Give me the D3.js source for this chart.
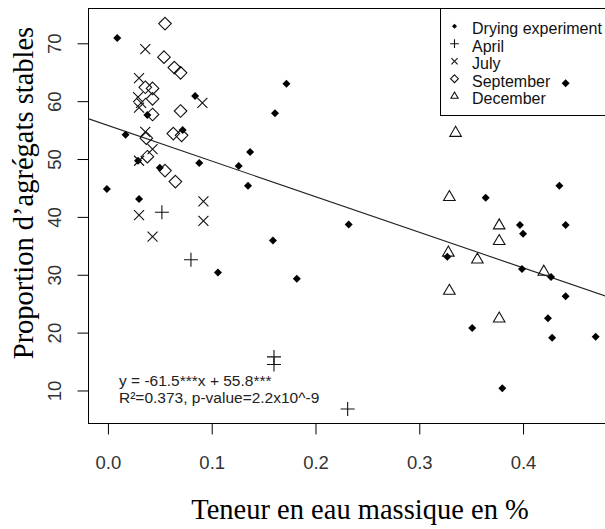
<!DOCTYPE html>
<html><head><meta charset="utf-8">
<script src="https://cdn.jsdelivr.net/npm/d3@7"></script>
<style>html,body{margin:0;padding:0;background:#fff;overflow:hidden}</style>
</head><body>
<script>
// ---- data ----
const dryingX = [0.009,-0.001,0.017,0.038,0.029,0.030,0.050,0.072,0.084,0.088,0.126,0.137,0.161,0.172,0.106,0.135,0.159,0.182,0.232,0.435,0.364,0.397,0.400,0.441,0.327,0.399,0.427,0.441,0.424,0.351,0.428,0.470,0.380,0.441];
const dryingY = [70.9,44.8,54.2,57.6,49.7,43.1,48.5,55.0,60.9,49.3,48.8,51.2,57.9,63.0,30.4,45.4,35.9,29.3,38.7,45.4,43.3,38.6,37.1,38.6,33.1,31.0,29.6,26.3,22.5,20.8,19.1,19.3,10.4,63.1];
const aprilX = [0.052,0.080,0.160,0.160,0.231];
const aprilY = [40.8,32.6,15.8,14.5,6.8];
const julyX = [0.036,0.030,0.029,0.032,0.030,0.091,0.036,0.043,0.030,0.030,0.043,0.092,0.092];
const julyY = [69.0,64.0,60.7,59.7,58.9,59.7,54.7,51.7,49.7,40.3,36.6,42.7,39.3];
const septX = [0.055,0.054,0.064,0.070,0.036,0.043,0.043,0.043,0.070,0.063,0.071,0.037,0.038,0.055,0.065];
const septY = [73.4,67.6,65.8,64.9,62.4,62.2,60.4,57.7,58.3,54.4,54.1,53.6,50.4,48.0,46.1];
const decX = [0.335,0.329,0.377,0.377,0.328,0.356,0.420,0.329,0.377];
const decY = [54.5,43.4,38.5,35.8,33.8,32.6,30.5,27.2,22.4];
const xTicks = [0.0,0.1,0.2,0.3,0.4];
const yTicks = [10,20,30,40,50,60,70];
const legendLabels = ["Drying experiment","April","July","September","December"];
const slope = -61.5, intercept = 55.8;
const eqLine1 = "y = -61.5***x + 55.8***";
const eqLine2 = "R\u00b2=0.373, p-value=2.2x10^-9";
const xTitle = "Teneur en eau massique en %";
const yTitle = "Proportion d\u2019agr\u00e9gats stables";

// ---- layout ----
const W = 605, H = 529;
const L = 88, T = 8, R = 615, B = 423;
const svg = d3.select("body").append("svg").attr("width", W).attr("height", H);

const x = d3.scaleLinear().domain([-0.0192, 0.4886]).range([L, R]);
const y = d3.scaleLinear().domain([4.38, 76.1]).range([B, T]);

const sans = "'Liberation Sans', Arial, sans-serif";
const serif = "'Liberation Serif', 'Times New Roman', serif";
const ink = "#111";

svg.append("defs").append("clipPath").attr("id","clip")
  .append("rect").attr("x",L).attr("y",T).attr("width",R-L).attr("height",B-T);

// box
svg.append("rect").attr("x",L+0.5).attr("y",T+0.5).attr("width",R-L).attr("height",B-T)
  .attr("fill","none").attr("stroke","#000").attr("stroke-width",1);

// axes
const xAxis = d3.axisBottom(x).tickValues(xTicks).tickFormat(d3.format(".1f")).tickSize(11).tickPadding(0);
const gx = svg.append("g").attr("transform",`translate(0,${B+0.5})`).call(xAxis);
gx.select(".domain").remove();
gx.selectAll("line").attr("stroke","#000");
gx.selectAll("text").attr("font-family",sans).attr("font-size",18.5).attr("fill","#333")
  .attr("dy",null).attr("y",45);

const yAxis = d3.axisLeft(y).tickValues(yTicks).tickSize(11).tickPadding(0);
const gy = svg.append("g").attr("transform",`translate(${L+0.5},0)`).call(yAxis);
gy.select(".domain").remove();
gy.selectAll("line").attr("stroke","#000");
gy.selectAll("text").attr("font-family",sans).attr("font-size",18.5).attr("fill","#333")
  .attr("x",null).attr("dy",null).attr("text-anchor","middle")
  .attr("transform","translate(-28,0) rotate(-90)").attr("y",0);

// titles
svg.append("text").attr("x",360).attr("y",519).attr("text-anchor","middle")
  .attr("font-family",serif).attr("font-size",28.5).attr("fill","#000").text(xTitle);
svg.append("text").attr("transform","translate(33,193) rotate(-90)").attr("text-anchor","middle")
  .attr("font-family",serif).attr("font-size",28.5).attr("fill","#000").text(yTitle);

// regression line
const plot = svg.append("g").attr("clip-path","url(#clip)");
const xr = x.domain();
plot.append("line")
  .attr("x1",x(xr[0])).attr("y1",y(intercept+slope*xr[0]))
  .attr("x2",x(xr[1])).attr("y2",y(intercept+slope*xr[1]))
  .attr("stroke","#222").attr("stroke-width",1.1);

// symbol drawers (size s = scale)
function diamondFilled(g, cx, cy, s){
  g.append("path").attr("d",`M${cx},${cy-4*s}L${cx+4*s},${cy}L${cx},${cy+4*s}L${cx-4*s},${cy}Z`).attr("fill","#000");
}
function plus(g, cx, cy, s){
  const a=7*s;
  g.append("path").attr("d",`M${cx-a},${cy}H${cx+a}M${cx},${cy-a}V${cy+a}`).attr("stroke",ink).attr("stroke-width",1.1).attr("fill","none");
}
function cross(g, cx, cy, s){
  const a=5*s;
  g.append("path").attr("d",`M${cx-a},${cy-a}L${cx+a},${cy+a}M${cx-a},${cy+a}L${cx+a},${cy-a}`).attr("stroke",ink).attr("stroke-width",1.1).attr("fill","none");
}
function diamondOpen(g, cx, cy, s){
  const a=6.3*s;
  g.append("path").attr("d",`M${cx},${cy-a}L${cx+a},${cy}L${cx},${cy+a}L${cx-a},${cy}Z`).attr("stroke",ink).attr("stroke-width",1.1).attr("fill","none");
}
function triangle(g, cx, cy, s){
  const k=4.3*s, r=1.555*k, xc=1.3468*k, yc=0.7776*k;
  g.append("path").attr("d",`M${cx},${cy-r}L${cx+xc},${cy+yc}L${cx-xc},${cy+yc}Z`).attr("stroke",ink).attr("stroke-width",1.1).attr("fill","none");
}
const drawers = [diamondFilled, plus, cross, diamondOpen, triangle];
const series = [[dryingX,dryingY],[aprilX,aprilY],[julyX,julyY],[septX,septY],[decX,decY]];

const pts = svg.append("g");
series.forEach(([xs,ys],i)=>{
  xs.forEach((v,j)=> drawers[i](pts, x(v), y(ys[j]), 1));
});

// legend
const lg = svg.append("g");
const lgX = 440, lgB = 115;
lg.append("rect").attr("x",lgX+0.5).attr("y",T+0.5).attr("width",R-lgX).attr("height",lgB-T)
  .attr("fill","none").attr("stroke","#000");
legendLabels.forEach((lab,i)=>{
  const base = 34 + i*17.5;
  drawers[i](lg, 454.5, base-7.8, 0.62);
  lg.append("text").attr("x",472).attr("y",base).attr("font-family",sans).attr("font-size",16)
    .attr("fill","#111").text(lab);
});

// equation text
svg.append("text").attr("x",119).attr("y",386).attr("font-family",sans).attr("font-size",15.5).attr("fill","#222").text(eqLine1);
svg.append("text").attr("x",119).attr("y",403).attr("font-family",sans).attr("font-size",15.5).attr("fill","#222").text(eqLine2);
</script>
</body></html>
